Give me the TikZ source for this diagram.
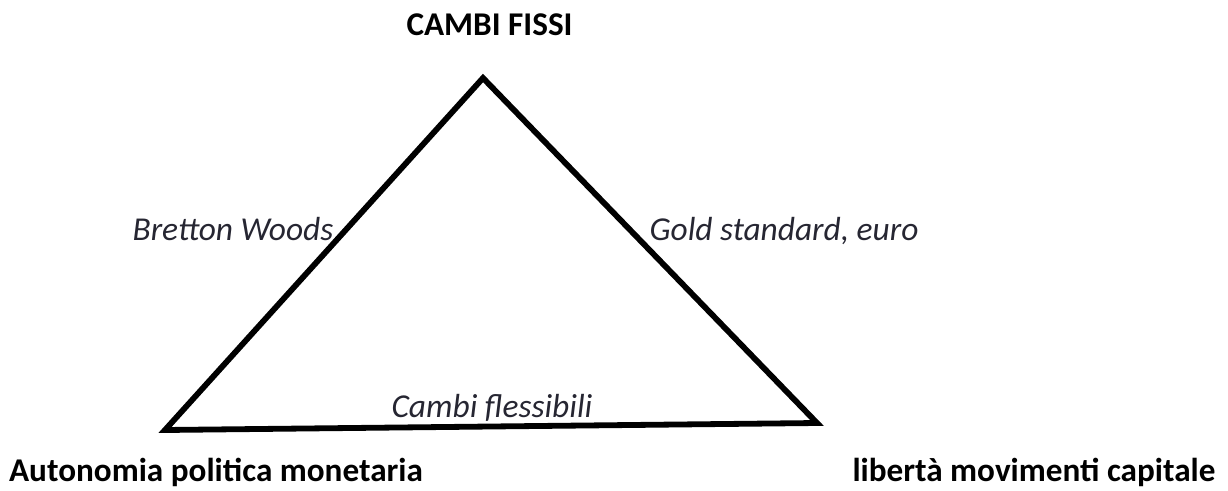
\documentclass[tikz,border=0pt]{standalone}
\usepackage{fontspec}
\setmainfont{Carlito}
\definecolor{labelgrey}{RGB}{38,38,50}
\begin{document}
\begin{tikzpicture}[x=1pt,y=-1pt,
  corner/.style={font=\bfseries\fontsize{33.2}{36}\selectfont,inner sep=0pt,anchor=base},
  side/.style={font=\itshape\fontsize{33.4}{36}\selectfont,text=labelgrey,inner sep=0pt,anchor=base},
  edge/.style={line width=5.8pt,line join=miter}]
\useasboundingbox (0,0) rectangle (1228,490);
\coordinate (T) at (483,78);
\coordinate (L) at (165,430);
\coordinate (R) at (817,423);
\draw[edge] (T) -- (R) -- (L) -- cycle;
\node[corner] (cf) at (489.5,35) {CAMBI FISSI};
\node[corner] (ap) at (216,481) {Autonomia politica monetaria};
\node[corner] (lm) at (1034,481) {libertà movimenti capitale};
\node[side] (bw) at (233,240) {Bretton Woods};
\node[side] (gs) at (784,240) {Gold standard, euro};
\node[side] (fl) at (492,417) {Cambi flessibili};
\end{tikzpicture}
\end{document}
